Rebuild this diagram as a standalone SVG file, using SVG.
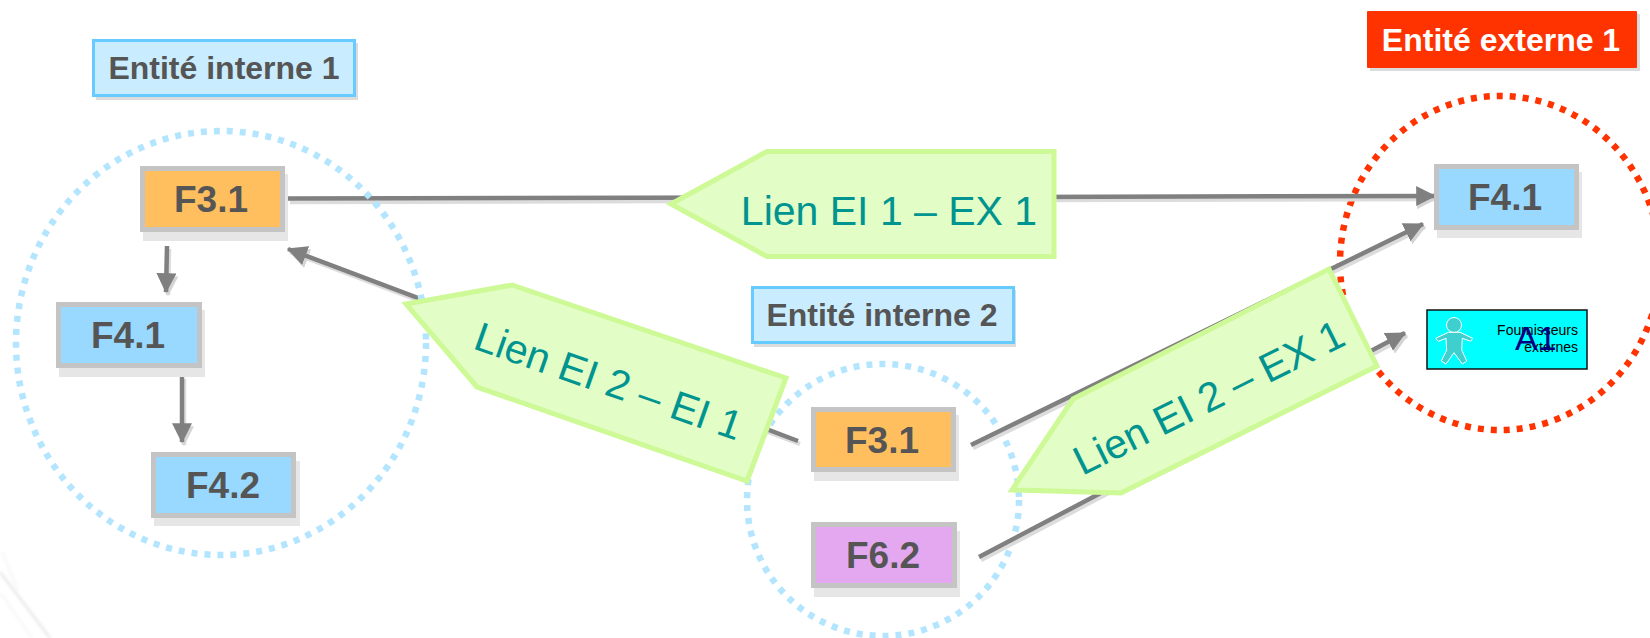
<svg xmlns="http://www.w3.org/2000/svg" width="1650" height="638" viewBox="0 0 1650 638">
<style>
text{font-family:"Liberation Sans",Arial,sans-serif}
.f rect.s{fill:#e6e6e6}
.b{stroke:#c4c4c4;stroke-width:5}
.ft{font-size:37px;font-weight:bold;fill:#555;text-anchor:middle}
.et{font-size:32px;font-weight:bold;fill:#555;text-anchor:middle}
.ring{fill:none;stroke-width:6.500;stroke-dasharray:6 7}
.cal{fill:#e3fdc6;stroke:#cdf996;stroke-width:5}
.lt{font-size:41px;fill:#009490;text-anchor:middle}
.ln{stroke:#808080;stroke-width:4.500;fill:none;marker-end:url(#ah)}
.sh{stroke:#dcdcdc;stroke-width:4.500;fill:none;marker-end:url(#ahs)}
</style>
<defs>
<marker id="ah" markerUnits="userSpaceOnUse" markerWidth="20" markerHeight="20" refX="16" refY="8.5" orient="auto" viewBox="0 0 17 17"><path d="M0 0L17 8.5L0 17Z" fill="#808080"/></marker>
<marker id="ahs" markerUnits="userSpaceOnUse" markerWidth="20" markerHeight="20" refX="16" refY="8.5" orient="auto" viewBox="0 0 17 17"><path d="M0 0L17 8.5L0 17Z" fill="#d4d4d4"/></marker>
<filter id="blur" x="-20%" y="-20%" width="140%" height="140%"><feGaussianBlur stdDeviation="1.5"/></filter>
</defs>
<rect width="1650" height="638" fill="#fff"/>
<g id="background" filter="url(#blur)" fill="none">
<path d="M0 572L50 638" stroke="#e8e8e8" stroke-width="2.5"/>
<path d="M0 592L32 638M2 552L18 590" stroke="#f8f8f8" stroke-width="3"/>
</g>
<g id="ring-externe"><ellipse class="ring" cx="1500" cy="263" rx="160" ry="167" stroke="#ff3300"/></g>
<g id="ring-interne-2"><ellipse class="ring" cx="883" cy="500" rx="136" ry="136" stroke="#b3e5ff"/></g>
<g id="connectors">
<g transform="translate(2 3)">
<path class="sh" d="M288 199L1434 196"/>
<path class="sh" d="M798 441L288 249"/>
<path class="sh" d="M971 445L1423 224"/>
<path class="sh" d="M979 557L1405 333"/>
<path class="sh" d="M167 246L166 292"/>
<path class="sh" d="M182 376L182 442"/>
</g>
<path class="ln" d="M288 198.500L1435 196"/>
<path class="ln" d="M798 441L288 249"/>
<path class="ln" d="M971 445L1423 224"/>
<path class="ln" d="M979 557L1405 333"/>
<path class="ln" d="M167 246L166 292"/>
<path class="ln" d="M182 376L182 442"/>
</g>
<g id="ring-interne-1"><ellipse class="ring" cx="221" cy="343" rx="205" ry="212" stroke="#b3e5ff"/></g>
<g id="entite-interne-1"><rect x="96" y="43" width="262" height="57" fill="#dcdcdc"/><rect x="93.500" y="40.500" width="261" height="55" fill="#c9ecff" stroke="#66ccff" stroke-width="3"/><text class="et" x="224" y="79">Entité interne 1</text></g>
<g id="entite-interne-2"><rect x="754" y="290" width="262" height="57" fill="#dcdcdc"/><rect x="752.500" y="287.500" width="261" height="55" fill="#c9ecff" stroke="#66ccff" stroke-width="3"/><text class="et" x="882" y="326">Entité interne 2</text></g>
<g id="entite-externe-1"><rect x="1370" y="14" width="270" height="57" fill="#dcdcdc"/><rect x="1367" y="11" width="270" height="57" rx="1" fill="#ff3300"/><text class="et" x="1501" y="51" style="fill:#fff">Entité externe 1</text></g>
<g id="f31-a" class="f"><rect class="s" x="143" y="174" width="145" height="67"/><rect class="b" x="142.500" y="168.500" width="140" height="61" fill="#ffbf5f"/><text class="ft" x="211" y="212">F3.1</text></g>
<g id="f41-a" class="f"><rect class="s" x="59" y="310" width="146" height="67"/><rect class="b" x="58.500" y="304.500" width="141" height="61" fill="#99d8ff"/><text class="ft" x="128" y="348">F4.1</text></g>
<g id="f42" class="f"><rect class="s" x="154" y="461" width="146" height="65"/><rect class="b" x="153.500" y="454.500" width="140" height="61" fill="#99d8ff"/><text class="ft" x="223" y="498">F4.2</text></g>
<g id="f41-b" class="f"><rect class="s" x="1437" y="172" width="145" height="66"/><rect class="b" x="1436.500" y="166.500" width="140" height="61" fill="#99d8ff"/><text class="ft" x="1505" y="210">F4.1</text></g>
<g id="f31-b" class="f"><rect class="s" x="814" y="415" width="145" height="66"/><rect class="b" x="813.500" y="409.500" width="140" height="60" fill="#ffbf5f"/><text class="ft" x="882" y="453">F3.1</text></g>
<g id="f62" class="f"><rect class="s" x="814" y="531" width="146" height="66"/><rect class="b" x="813.500" y="524.500" width="141" height="61" fill="#e4a8f0"/><text class="ft" x="883" y="568">F6.2</text></g>
<g id="a1">
<rect x="1427" y="310" width="160" height="59" fill="#0ff" stroke="#111" stroke-width="1.500"/>
<circle cx="1454" cy="325" r="7.500" fill="#40cfcf" stroke="#fff"/>
<path d="M1435.700 338.300L1448.300 332.300L1460 332.300L1472.700 338.300L1470.700 341.300L1462.300 338.300L1461.700 350L1466.700 361L1462.300 364L1454 352.700L1446 364L1441.300 361L1446.700 350L1446 338.300L1438.300 341.300Z" fill="#40cfcf" stroke="#fff"/>
<text x="1578" y="335" text-anchor="end" font-size="14" fill="#000">Fournisseurs</text>
<text x="1578" y="352" text-anchor="end" font-size="14" fill="#000">externes</text>
<text x="1515" y="350" font-size="34" fill="#000080">A1</text>
</g>
<g id="lien-ei1-ex1"><path class="cal" d="M671 204L767 151.500H1054V256.500H767Z"/><text class="lt" x="889" y="225">Lien EI 1 – EX 1</text></g>
<g id="lien-ei2-ei1"><path class="cal" d="M406 304L512 285L786 378L747 481L477 387Z"/><text class="lt" x="604" y="394.500" transform="rotate(19.3 604 394.500)">Lien EI 2 – EI 1</text></g>
<g id="lien-ei2-ex1"><path class="cal" d="M1012 490L1073 399L1329 269L1377 366L1121 493Z"/><text class="lt" x="1215" y="410" transform="rotate(-26.400 1215 410)">Lien EI 2 – EX 1</text></g>
</svg>
